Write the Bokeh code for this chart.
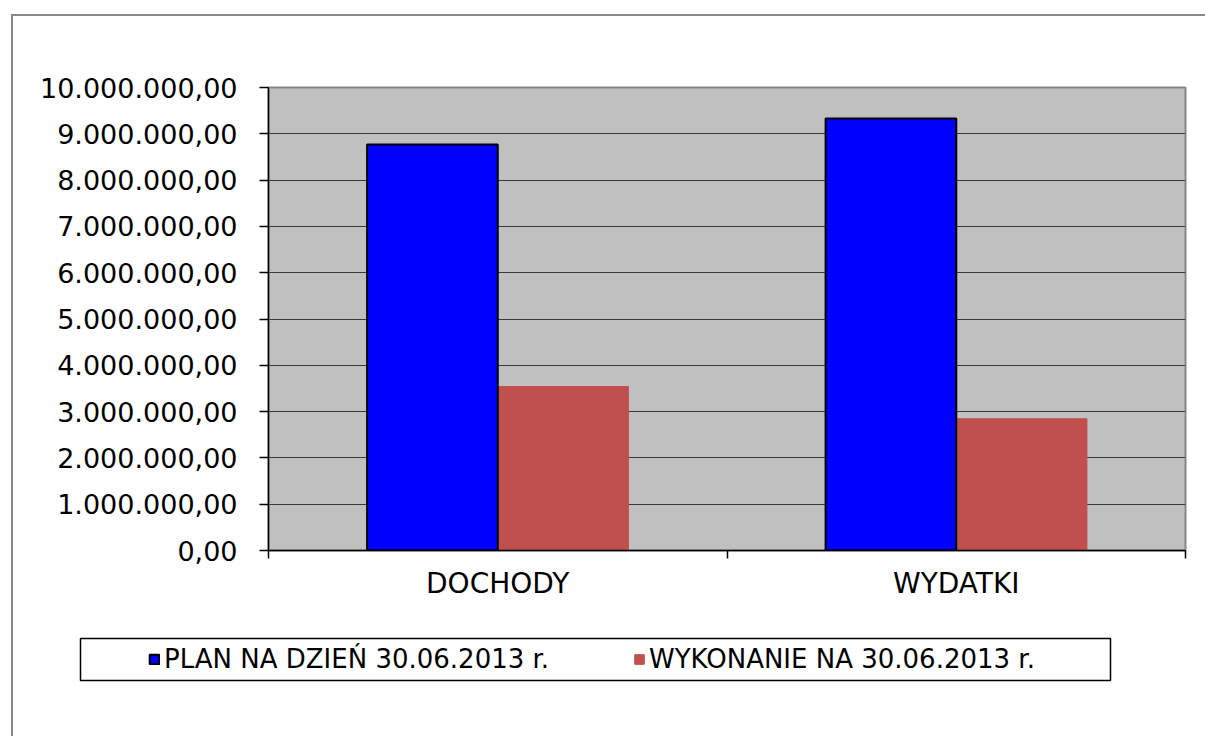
from bokeh.plotting import figure
from bokeh.layouts import column, row
from bokeh.models import (ColumnDataSource, Range1d, FixedTicker, Legend,
                          LegendItem, Spacer)
from bokeh.embed import file_html
from bokeh.resources import INLINE

# ---- data -------------------------------------------------------------
categories = ["DOCHODY", "WYDATKI"]
series_names = ["PLAN NA DZIEŃ 30.06.2013 r.", "WYKONANIE NA 30.06.2013 r."]
plan = [8_770_000, 9_330_000]
wykonanie = [3_540_000, 2_845_000]
y_ticks = [0, 1_000_000, 2_000_000, 3_000_000, 4_000_000, 5_000_000,
           6_000_000, 7_000_000, 8_000_000, 9_000_000, 10_000_000]
y_tick_labels = ["0,00", "1.000.000,00", "2.000.000,00", "3.000.000,00",
                 "4.000.000,00", "5.000.000,00", "6.000.000,00",
                 "7.000.000,00", "8.000.000,00", "9.000.000,00",
                 "10.000.000,00"]

FONT = "DejaVu Sans"
BLUE, RED = "#0000FF", "#C0504D"
BAR_W = 0.285

# ---- main chart -------------------------------------------------------
W, H = 1192, 620
p = figure(width=W, height=H, output_backend="svg", toolbar_location=None,
           x_range=Range1d(0, len(categories)),
           y_range=Range1d(y_ticks[0], y_ticks[-1]),
           min_border_left=255, min_border_right=20,
           min_border_top=71, min_border_bottom=86)

p.background_fill_color = "#C0C0C0"
p.border_fill_color = "white"
p.outline_line_color = "#868686"
p.outline_line_width = 2

centers = [i + 0.5 for i in range(len(categories))]
src = ColumnDataSource(dict(
    x_plan=[c - BAR_W / 2 for c in centers],
    x_wyk=[c + BAR_W / 2 for c in centers],
    plan=plan, wyk=wykonanie))

p.vbar(x="x_wyk", top="wyk", bottom=0, width=BAR_W, source=src,
       fill_color=RED, line_color=RED, line_width=1)
p.vbar(x="x_plan", top="plan", bottom=0, width=BAR_W, source=src,
       fill_color=BLUE, line_color="black", line_width=2)

xa = p.xaxis[0]
xa.ticker = FixedTicker(ticks=centers,
                        minor_ticks=list(range(len(categories) + 1)))
xa.major_label_overrides = {c: n for c, n in zip(centers, categories)}
xa.major_tick_line_color = None
xa.major_tick_out = 8
xa.major_tick_in = 0
xa.minor_tick_line_color = "black"
xa.minor_tick_line_width = 1.5
xa.minor_tick_out = 8
xa.minor_tick_in = 0
xa.axis_line_color = "black"
xa.axis_line_width = 1.5
xa.major_label_text_font = FONT
xa.major_label_text_font_size = "28px"
xa.major_label_text_color = "black"
xa.major_label_standoff = 8

ya = p.yaxis[0]
ya.ticker = FixedTicker(ticks=y_ticks, minor_ticks=[])
ya.major_label_overrides = {t: l for t, l in zip(y_ticks, y_tick_labels)}
ya.major_tick_out = 9
ya.major_tick_in = 0
ya.major_tick_line_color = "black"
ya.major_tick_line_width = 1.5
ya.minor_tick_line_color = None
ya.axis_line_color = "black"
ya.axis_line_width = 1.5
ya.major_label_text_font = FONT
ya.major_label_text_font_size = "27px"
ya.major_label_text_color = "black"
ya.major_label_standoff = 22

p.xgrid.visible = False
p.ygrid.ticker = FixedTicker(ticks=y_ticks[1:-1])
p.ygrid.grid_line_color = "#3a3a3a"
p.ygrid.grid_line_width = 1.2

# ---- legend strip (its frame is the legend box) ----------------------
lg = figure(width=1034, height=100, output_backend="svg",
            toolbar_location=None, x_range=Range1d(0, 1),
            y_range=Range1d(0, 1), x_axis_location=None,
            y_axis_location=None, min_border_left=2, min_border_right=2,
            min_border_top=2, min_border_bottom=56)
lg.grid.visible = False
lg.outline_line_color = "black"
lg.outline_line_width = 1.5
lg.background_fill_color = "white"
lg.border_fill_color = "white"

# hidden proxies that give the legend its swatches
g_plan = lg.vbar(x="x_plan", top="plan", width=BAR_W, source=src,
                 fill_color=BLUE, line_color="black", line_width=2,
                 visible=False)
g_wyk = lg.vbar(x="x_wyk", top="wyk", width=BAR_W, source=src,
                fill_color=RED, line_color=RED, line_width=1,
                visible=False)

legend = Legend(items=[LegendItem(label=series_names[0], renderers=[g_plan]),
                       LegendItem(label=series_names[1], renderers=[g_wyk])],
                orientation="horizontal", location="left", margin=68,
                padding=0, spacing=29, label_standoff=4,
                glyph_width=12, glyph_height=12, label_width=440,
                border_line_color=None, background_fill_alpha=0,
                label_text_font=FONT, label_text_font_size="26px",
                label_text_color="black")
lg.add_layout(legend, "center")

root = column(p, row(Spacer(width=65, height=100), lg, spacing=0),
              spacing=0,
              styles={"border-left": "2px solid #8a8a8a",
                      "border-top": "2px solid #8a8a8a",
                      "margin-left": "11px", "margin-top": "14px"})

open("out.html", "w").write(file_html(root, INLINE))
